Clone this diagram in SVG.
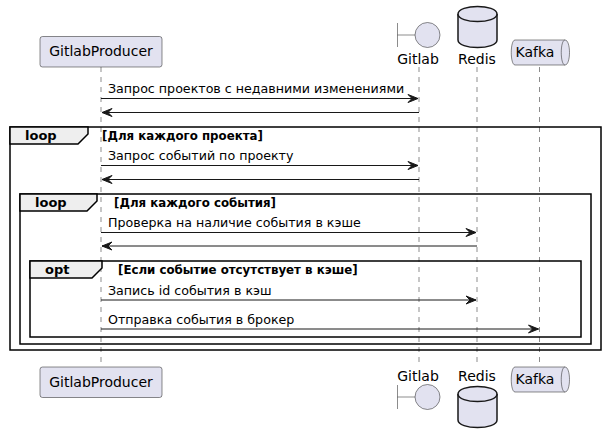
<svg xmlns="http://www.w3.org/2000/svg" width="605" height="445" viewBox="0 0 605 445">
<defs>
<style>
.part{fill:#E2E2F0;stroke:#181818;stroke-width:0.5}
.db{fill:#E2E2F0;stroke:#181818;stroke-width:1.5}
.life{stroke:#181818;stroke-width:0.5;stroke-dasharray:5,5;fill:none}
.msg{stroke:#181818;stroke-width:1;fill:none}
.frame{fill:none;stroke:#000;stroke-width:1.5}
.tab{fill:#EEEEEE;stroke:#000;stroke-width:1.5}
.pt{font-family:"DejaVu Sans",sans-serif;font-size:14px;fill:#000}
.mt{font-family:"DejaVu Sans",sans-serif;font-size:12.65px;fill:#000}
.ft{font-family:"DejaVu Sans",sans-serif;font-size:13px;font-weight:bold;fill:#000}
.gt{font-family:"DejaVu Sans",sans-serif;font-size:11.8px;font-weight:bold;fill:#000}
</style>
<marker id="ah" markerWidth="12" markerHeight="10" viewBox="0 0 12 10" refX="11" refY="5" orient="auto-start-reverse" markerUnits="userSpaceOnUse">
<polygon points="1,1 11,5 1,9 5,5" fill="#181818" stroke="#181818" stroke-width="1"/>
</marker>
</defs>
<rect width="605" height="445" fill="#FFFFFF"/>

<g id="lifelines">
<line class="life" x1="101" y1="67" x2="101" y2="367"/>
<line class="life" x1="419" y1="67" x2="419" y2="367"/>
<line class="life" x1="477" y1="67" x2="477" y2="367"/>
<line class="life" x1="539.5" y1="67" x2="539.5" y2="367"/>
</g>

<g id="frames">
<rect class="frame" x="10" y="127" width="591" height="223"/>
<polygon class="tab" points="10,127 88,127 88,134 78,144 10,144"/>
<text class="ft" x="25" y="140">loop</text>
<text class="gt" x="102" y="140">[Для каждого проекта]</text>

<rect class="frame" x="20" y="194" width="571" height="150"/>
<polygon class="tab" points="20,194 97,194 97,201 87,211 20,211"/>
<text class="ft" x="35" y="207">loop</text>
<text class="gt" x="114" y="207">[Для каждого события]</text>

<rect class="frame" x="30" y="261" width="551" height="76"/>
<polygon class="tab" points="30,261 102,261 102,268 92,278 30,278"/>
<text class="ft" x="45" y="274">opt</text>
<text class="gt" x="118" y="274">[Если событие отсутствует в кэше]</text>
</g>

<g id="GitlabProducer">
<rect class="part" x="40" y="36.5" width="122" height="30.5" rx="2.5"/>
<text class="pt" x="101" y="56" text-anchor="middle">GitlabProducer</text>
<rect class="part" x="40" y="367" width="122" height="30.5" rx="2.5"/>
<text class="pt" x="101" y="387" text-anchor="middle">GitlabProducer</text>
</g>

<g id="Gitlab">
<line x1="397.5" y1="23" x2="397.5" y2="47" stroke="#181818" stroke-width="0.5"/>
<line x1="397.5" y1="35" x2="415" y2="35" stroke="#181818" stroke-width="0.5"/>
<circle class="part" cx="427.5" cy="35" r="12.5"/>
<text class="pt" x="418" y="64" text-anchor="middle">Gitlab</text>
<text class="pt" x="418" y="381" text-anchor="middle">Gitlab</text>
<line x1="397.5" y1="385" x2="397.5" y2="409" stroke="#181818" stroke-width="0.5"/>
<line x1="397.5" y1="397" x2="415" y2="397" stroke="#181818" stroke-width="0.5"/>
<circle class="part" cx="427.5" cy="397" r="12.5"/>
</g>

<g id="Redis">
<path class="db" d="M458,14 C458,4 497,4 497,14 L497,40 C497,50 458,50 458,40 Z"/>
<path class="db" d="M458,14 C458,24 497,24 497,14" fill="none"/>
<text class="pt" x="477" y="64" text-anchor="middle">Redis</text>
<text class="pt" x="477" y="381" text-anchor="middle">Redis</text>
<path class="db" d="M458,394 C458,384 497,384 497,394 L497,420 C497,430 458,430 458,420 Z"/>
<path class="db" d="M458,394 C458,404 497,404 497,394" fill="none"/>
</g>

<g id="Kafka">
<path class="part" d="M515,40 L565,40 C571,40 571,65 565,65 L515,65 C510,65 510,40 515,40 Z"/>
<path class="part" d="M565,40 C560,40 560,65 565,65" fill="none"/>
<text class="pt" x="535" y="57" text-anchor="middle">Kafka</text>
<path class="part" d="M515,367 L565,367 C571,367 571,392 565,392 L515,392 C510,392 510,367 515,367 Z"/>
<path class="part" d="M565,367 C560,367 560,392 565,392" fill="none"/>
<text class="pt" x="535" y="384" text-anchor="middle">Kafka</text>
</g>

<g id="connectors">
<line class="msg" x1="101" y1="98.5" x2="418" y2="98.5" marker-end="url(#ah)"/>
<text class="mt" x="108" y="93">Запрос проектов с недавними изменениями</text>
<line class="msg" x1="419" y1="112.5" x2="102" y2="112.5" marker-end="url(#ah)"/>

<line class="msg" x1="101" y1="165.5" x2="418" y2="165.5" marker-end="url(#ah)"/>
<text class="mt" x="108" y="160">Запрос событий по проекту</text>
<line class="msg" x1="419" y1="179.5" x2="102" y2="179.5" marker-end="url(#ah)"/>

<line class="msg" x1="101" y1="232.5" x2="476" y2="232.5" marker-end="url(#ah)"/>
<text class="mt" x="108" y="227">Проверка на наличие события в кэше</text>
<line class="msg" x1="477" y1="246" x2="102" y2="246" marker-end="url(#ah)"/>

<line class="msg" x1="101" y1="300" x2="476" y2="300" marker-end="url(#ah)"/>
<text class="mt" x="108" y="295">Запись id события в кэш</text>

<line class="msg" x1="101" y1="329" x2="538.5" y2="329" marker-end="url(#ah)"/>
<text class="mt" x="108" y="324">Отправка события в брокер</text>
</g>
</svg>
